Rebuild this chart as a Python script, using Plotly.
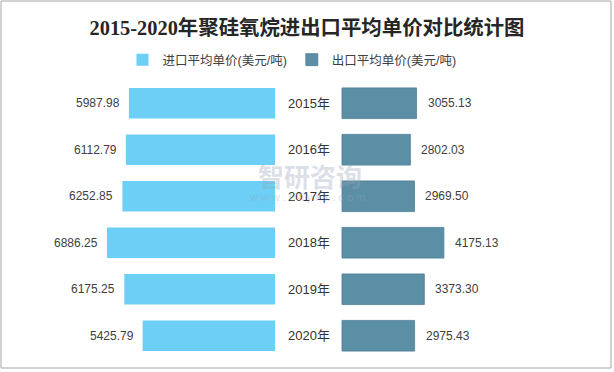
import plotly.graph_objects as go

years = ['2015年', '2016年', '2017年', '2018年', '2019年', '2020年']
import_price = [5987.98, 6112.79, 6252.85, 6886.25, 6175.25, 5425.79]
export_price = [3055.13, 2802.03, 2969.50, 4175.13, 3373.30, 2975.43]
import_name = '进口平均单价(美元/吨)'
export_name = '出口平均单价(美元/吨)'
title_text = '2015-2020年聚硅氧烷进出口平均单价对比统计图'

GAP = 1373
LEFT_C = '#6DCFF6'
RIGHT_C = '#5B8FA6'
TXT = '#404040'
FONT = 'Liberation Sans, Noto Sans CJK SC, sans-serif'

fig = go.Figure()
fig.add_bar(y=years, x=[-v for v in import_price], base=-GAP, orientation='h',
            name=import_name, marker=dict(color=LEFT_C, line=dict(width=0)),
            width=0.66)
fig.add_bar(y=years, x=export_price, base=GAP, orientation='h',
            name=export_name, marker=dict(color=RIGHT_C, line=dict(color='#4D7F96', width=0.8)),
            width=0.66)

ann = []
for y, v in zip(years, import_price):
    ann.append(dict(x=-GAP - v, y=y, text=f'{v:.2f}', xanchor='right', xshift=-7,
                    showarrow=False, font=dict(size=12, color=TXT, family=FONT)))
for y, v in zip(years, export_price):
    ann.append(dict(x=GAP + v, y=y, text=f'{v:.2f}', xanchor='left', xshift=9,
                    showarrow=False, font=dict(size=12, color=TXT, family=FONT)))
for y in years:
    ann.append(dict(x=0, y=y, text=y, xanchor='center', showarrow=False,
                    font=dict(size=13, color='#333333', family=FONT)))
# watermark
ann.append(dict(x=0.505, y=(359 - 175) / 279, xref='paper', yref='paper', text='<b>智研咨询</b>',
                showarrow=False, font=dict(size=26, color='rgba(150,165,185,0.35)',
                                           family='Noto Sans CJK SC')))
ann.append(dict(x=0.5, y=(359 - 197) / 279, xref='paper', yref='paper',
                text='w w w . c h y x x . c o m', showarrow=False,
                font=dict(size=11, color='rgba(150,165,185,0.4)', family=FONT)))

fig.update_layout(
    width=614, height=372,
    margin=dict(l=0, r=0, t=80, b=13),
    paper_bgcolor='white', plot_bgcolor='white',
    barmode='overlay',
    title=dict(text=title_text, x=0.5, xanchor='center', y=1 - 28 / 372, yanchor='middle',
               yref='container',
               font=dict(size=20.4, color='#262626', family='Liberation Serif, Noto Sans CJK SC, serif',
                         weight='bold')),
    legend=dict(orientation='h', x=0.5 - 15 / 614, xanchor='center', y=(359 - 60) / 279,
                yanchor='middle',
                font=dict(size=12.5, color='#404040', family=FONT), itemwidth=30,
                bgcolor='rgba(0,0,0,0)'),
    xaxis=dict(visible=False, range=[-12643, 12520], fixedrange=True),
    yaxis=dict(visible=False, range=[5.5, -0.5], type='category', fixedrange=True),
    annotations=ann,
    shapes=[dict(type='rect', xref='paper', yref='paper', x0=1 / 614, x1=611 / 614,
                 y0=(359 - 368) / 279, y1=(359 - 1) / 279,
                 line=dict(color='#A6A6A6', width=1), fillcolor='rgba(0,0,0,0)', layer='below')],
    showlegend=True,
)

fig.write_html('out.html', config={'displayModeBar': False},
               post_script="document.body.style.margin='0';document.body.style.overflow='hidden';")
